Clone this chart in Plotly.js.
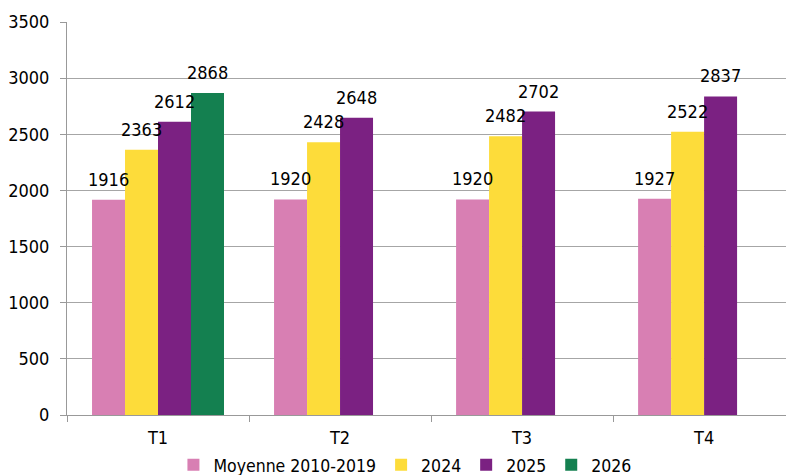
<!DOCTYPE html>
<html><head><meta charset="utf-8">
<script src="https://cdn.plot.ly/plotly-3.0.1.min.js"></script>
<style>html,body{margin:0;padding:0;background:#fff;overflow:hidden}</style>
</head><body><div id="chart" style="width:786px;height:475px"></div>
<script>
const categories = ["T1", "T2", "T3", "T4"];
const moyenne = [1916, 1920, 1920, 1927];
const y2024 = [2363, 2428, 2482, 2522];
const y2025 = [2612, 2648, 2702, 2837];
const y2026 = [2868, null, null, null];
const seriesNames = ["Moyenne 2010-2019", "2024", "2025", "2026"];
const colors = ["#D87FB3", "#FDDC3A", "#7B2182", "#148050"];
const allValues = [moyenne, y2024, y2025, y2026];

const font = "'DejaVu Sans Condensed', 'DejaVu Sans', Verdana, sans-serif";
const fs = 18;
const bargap = 0.275;
const nSeries = allValues.length;
const slot = (1 - bargap) / nSeries;

const traces = allValues.map((vals, i) => ({
  type: "bar",
  name: seriesNames[i],
  x: categories,
  y: vals,
  marker: {color: colors[i], line: {width: 0}},
  hoverinfo: "skip"
}));

// value labels placed above each bar, in axis coordinates
const annotations = [];
allValues.forEach((vals, i) => {
  vals.forEach((v, c) => {
    if (v == null) return;
    annotations.push({
      x: c + (i - (nSeries - 1) / 2) * slot, y: v, xref: "x", yref: "y",
      text: String(v), showarrow: false, yanchor: "bottom", yshift: 8,
      font: {family: font, size: fs, color: "#000"}
    });
  });
});

const layout = {
  width: 786, height: 475,
  margin: {l: 67, r: 0, t: 22, b: 60, autoexpand: false},
  paper_bgcolor: "#fff", plot_bgcolor: "#fff",
  barmode: "group",
  bargap: bargap,
  bargroupgap: 0,
  showlegend: true,
  font: {family: font, size: fs, color: "#000"},
  annotations: annotations,
  legend: {orientation: "h", x: 0.47, xanchor: "center", y: -0.127, yanchor: "middle",
           font: {family: font, size: 17.5, color: "#000"}, itemwidth: 30, traceorder: "normal"},
  xaxis: {
    range: [-0.5, 3.45],
    showline: true, linecolor: "#999", linewidth: 1,
    ticks: "outside", tickson: "boundaries", ticklen: 6, tickcolor: "#999",
    tickfont: {family: font, size: fs, color: "#000"},
    ticklabelstandoff: 6,
    showgrid: false, zeroline: false, fixedrange: true
  },
  yaxis: {
    range: [0, 3500], dtick: 500, tick0: 0,
    showline: true, linecolor: "#999", linewidth: 1,
    ticks: "outside", ticklen: 6, tickcolor: "#999",
    showgrid: true, gridcolor: "#A6A6A6", gridwidth: 1,
    zeroline: false,
    tickfont: {family: font, size: fs, color: "#000"},
    ticklabelstandoff: 7, fixedrange: true
  }
};
Plotly.newPlot("chart", traces, layout, {displayModeBar: false, staticPlot: true});
</script>
</body></html>
